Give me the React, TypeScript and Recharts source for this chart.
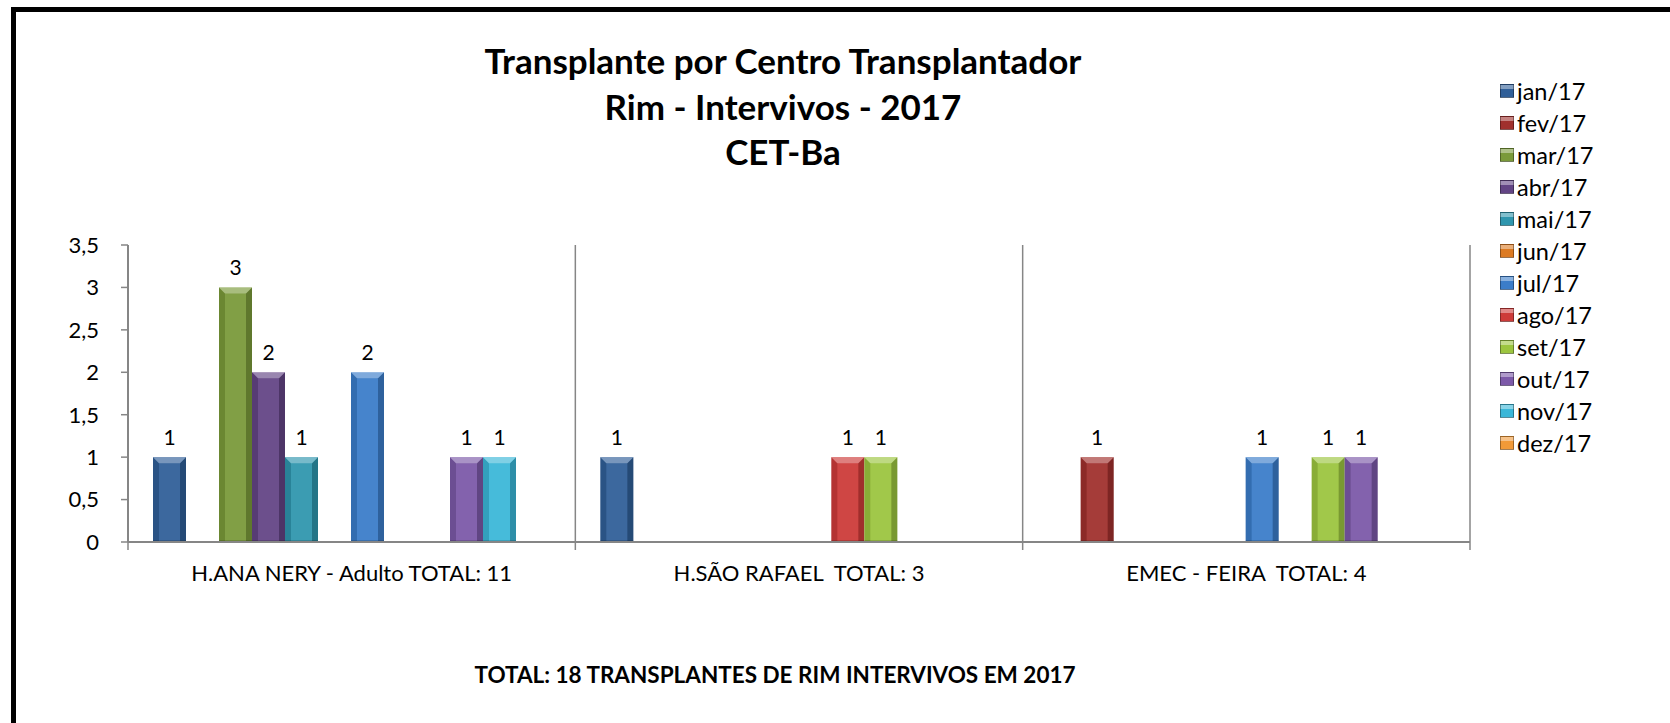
import { BarChart, Bar, XAxis, YAxis, CartesianGrid, LabelList } from 'recharts';

// transplant centres (x categories)
const centers = ['H.ANA NERY - Adulto TOTAL: 11', 'H.SÃO RAFAEL  TOTAL: 3', 'EMEC - FEIRA  TOTAL: 4'];

// one series per month, values per centre
const months = ['jan/17', 'fev/17', 'mar/17', 'abr/17', 'mai/17', 'jun/17', 'jul/17', 'ago/17', 'set/17', 'out/17', 'nov/17', 'dez/17'];
const jan17 = [1, 1, 0];
const fev17 = [0, 0, 1];
const mar17 = [3, 0, 0];
const abr17 = [2, 0, 0];
const mai17 = [1, 0, 0];
const jun17 = [0, 0, 0];
const jul17 = [2, 0, 1];
const ago17 = [0, 1, 0];
const set17 = [0, 1, 1];
const out17 = [1, 0, 1];
const nov17 = [1, 0, 0];
const dez17 = [0, 0, 0];
const series = [jan17, fev17, mar17, abr17, mai17, jun17, jul17, ago17, set17, out17, nov17, dez17];

const colors = ['#305f98', '#a0302d', '#7a9a3a', '#634585', '#2f96ae', '#dc7a22', '#3b7dc9', '#cd3b39', '#9cc53f', '#7c59a8', '#3bb7d8', '#f29a38'];

const yTicks = [0, 0.5, 1, 1.5, 2, 2.5, 3, 3.5];

const titleLines = ['Transplante por Centro Transplantador', 'Rim - Intervivos - 2017', 'CET-Ba'];
const footer = 'TOTAL: 18 TRANSPLANTES DE RIM INTERVIVOS EM 2017';

const W = 1670;
const H = 723;
const FONT = 'Lato, "Open Sans", sans-serif';
const AXIS = '#868686';
const MARGIN = { top: 245, right: 200, bottom: 141, left: 68 };
const Y_W = 60;
const CAT_W = (W - MARGIN.left - MARGIN.right - Y_W) / centers.length;

const data = centers.map((name, i) => {
  const row: any = { name };
  months.forEach((m, j) => {
    row[m] = series[j][i];
  });
  return row;
});

// Excel-like bevelled bar
function BevelBar(props: any) {
  const { x, y, width, height, fill } = props;
  if (!height || height <= 0) return null;
  const b = Math.min(6, width / 4);
  return (
    <g>
      <rect x={x} y={y} width={width} height={height} fill={fill} />
      <polygon points={`${x},${y} ${x + b},${y + b} ${x + b},${y + height} ${x},${y + height}`} fill="#000" fillOpacity={0.12} />
      <polygon points={`${x + width},${y} ${x + width - b},${y + b} ${x + width - b},${y + height} ${x + width},${y + height}`} fill="#000" fillOpacity={0.22} />
      <polygon points={`${x},${y} ${x + width},${y} ${x + width - b},${y + b} ${x + b},${y + b}`} fill="#fff" fillOpacity={0.35} />
      <rect x={x + b} y={y + b} width={Math.max(0, width - 2 * b)} height={Math.max(0, height - b)} fill="#fff" fillOpacity={0.06} />
      <rect x={x} y={y + height - 2} width={width} height={2} fill="#000" fillOpacity={0.15} />
    </g>
  );
}

function CategoryTick(props: any) {
  const { x, y, payload, index } = props;
  return (
    <g>
      <text x={x} y={y + 30} textAnchor="middle" dominantBaseline="central" fontSize={22} fontFamily={FONT} fill="#000" style={{ whiteSpace: 'pre' }}>
        {payload.value}
      </text>
      <line x1={x - CAT_W / 2} x2={x - CAT_W / 2} y1={y} y2={y + 8} stroke={AXIS} strokeWidth={1.5} />
      {index === centers.length - 1 && (
        <line x1={x + CAT_W / 2} x2={x + CAT_W / 2} y1={y} y2={y + 8} stroke={AXIS} strokeWidth={1.5} />
      )}
    </g>
  );
}

export default function App() {
  return (
    <div style={{ position: 'absolute', left: 0, top: 0, width: W, height: H, background: '#fff', overflow: 'hidden' }}>
      {/* frame */}
      <div style={{ position: 'absolute', left: 11, top: 7, width: W, height: H, borderLeft: '5px solid #000', borderTop: '5px solid #000' }} />

      {/* title */}
      <div style={{ position: 'absolute', left: 783 - 500, top: 38, width: 1000, textAlign: 'center', fontFamily: FONT, fontWeight: 700, fontSize: 35, lineHeight: '45.5px', color: '#000' }}>
        {titleLines.map((t) => (
          <div key={t}>{t}</div>
        ))}
      </div>

      <div style={{ position: 'absolute', left: 0, top: 0 }}>
        <BarChart width={W} height={H} data={data} margin={MARGIN} barCategoryGap={25} barGap={0}>
          <CartesianGrid
            horizontal={false}
            stroke={AXIS}
            strokeWidth={1.5}
            verticalCoordinatesGenerator={({ offset }: any) => centers.map((_, i) => offset.left + (offset.width * (i + 1)) / centers.length)}
          />
          <XAxis dataKey="name" axisLine={{ stroke: AXIS, strokeWidth: 2 }} tickLine={false} tickSize={0} tickMargin={0} height={40} interval={0} tick={<CategoryTick />} />
          <YAxis
            width={Y_W}
            domain={[0, 3.5]}
            ticks={yTicks}
            interval={0}
            axisLine={{ stroke: AXIS, strokeWidth: 2 }}
            tickLine={{ stroke: AXIS, strokeWidth: 1.5 }}
            tickSize={7}
            tickMargin={22}
            tick={{ fill: '#000', fontSize: 22, fontFamily: FONT }}
            tickFormatter={(v: number) => String(v).replace('.', ',')}
          />
          {months.map((m, j) => (
            <Bar key={m} dataKey={m} fill={colors[j]} shape={<BevelBar />} isAnimationActive={false}>
              <LabelList dataKey={m} position="top" offset={12} fill="#000" fontSize={21} fontFamily={FONT} formatter={(v: any) => (v ? v : '')} />
            </Bar>
          ))}
        </BarChart>
      </div>

      {/* legend */}
      <div style={{ position: 'absolute', left: 1500, top: 75, fontFamily: FONT, fontSize: 23.5, color: '#000' }}>
        {months.map((m, j) => (
          <div key={m} style={{ display: 'flex', alignItems: 'center', height: 32 }}>
            <span
              style={{
                display: 'inline-block',
                width: 12,
                height: 12,
                marginRight: 3,
                border: '1px solid rgba(0,0,0,0.35)',
                background: `linear-gradient(to bottom, rgba(255,255,255,0.4) 0%, rgba(255,255,255,0.4) 30%, ${colors[j]} 31%)`,
                backgroundColor: colors[j],
              }}
            />
            <span>{m}</span>
          </div>
        ))}
      </div>

      {/* footer */}
      <div style={{ position: 'absolute', left: 775 - 500, top: 661, width: 1000, textAlign: 'center', fontFamily: FONT, fontWeight: 700, fontSize: 22.5, lineHeight: '28px', color: '#000' }}>
        {footer}
      </div>
    </div>
  );
}
